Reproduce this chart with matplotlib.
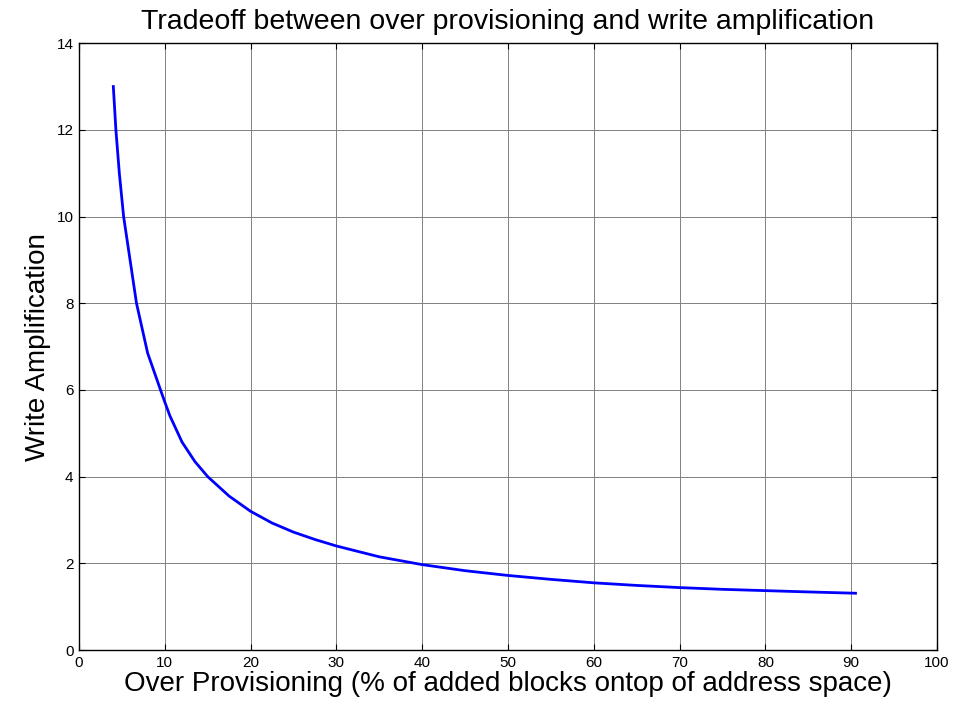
import matplotlib
matplotlib.use("Agg")
import matplotlib.pyplot as plt

# Valores
over_provisioning = [4.0, 4.3, 4.7, 5.2, 6.7, 8.0, 9.5, 10.0, 10.6, 12.0, 13.5, 15.0,
                     17.5, 20.0, 22.5, 25.0, 27.5, 30.0, 35.0, 40.0, 45.0,
                     50.0, 55.0, 60.0, 65.0, 70.0, 75.0, 80.0, 85.0, 90.5]
write_amplification = [13.0, 12.0, 11.0, 10.0, 8.0, 6.85, 6.0, 5.72, 5.4, 4.8, 4.35, 4.0,
                       3.55, 3.2, 2.93, 2.72, 2.55, 2.4, 2.15, 1.97, 1.83,
                       1.72, 1.63, 1.55, 1.49, 1.44, 1.4, 1.37, 1.34, 1.31]
x_ticks = list(range(0, 101, 10))
y_ticks = list(range(0, 15, 2))

plt.rcParams['font.family'] = ['Liberation Sans', 'DejaVu Sans']

fig = plt.figure(figsize=(9.67, 7.08), dpi=100)
ax = fig.add_axes([0.0817, 0.0819, 0.8873, 0.8571])

ax.plot(over_provisioning, write_amplification, color='#0000ff', linewidth=2.0)

ax.set_xlim(0, 100)
ax.set_ylim(0, 14)
ax.set_xticks(x_ticks)
ax.set_yticks(y_ticks)
ax.tick_params(direction='in', length=4, width=0.8, top=True, right=True, labelsize=11, pad=4)
ax.grid(True, color='#808080', linewidth=0.7)
for s in ax.spines.values():
    s.set_linewidth(1.0)

ax.set_title("Tradeoff between over provisioning and write amplification", fontsize=20.5, pad=10)
ax.set_xlabel("Over Provisioning (% of added blocks ontop of address space)", fontsize=20, labelpad=1)
ax.set_ylabel("Write Amplification", fontsize=20, labelpad=4)

fig.savefig("out.png", dpi=100)
